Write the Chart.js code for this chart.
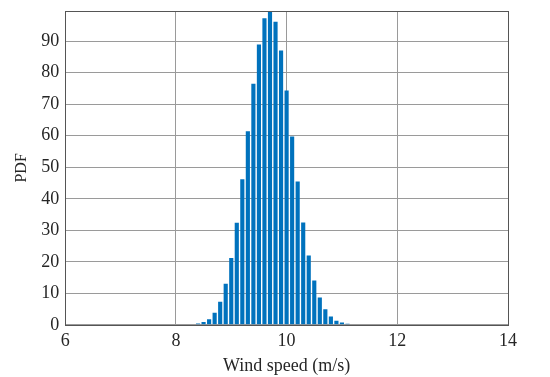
<!DOCTYPE html>
<html>
<head>
<meta charset="utf-8">
<script src="https://cdn.jsdelivr.net/npm/chart.js@4/dist/chart.umd.min.js"></script>
<style>
html,body{margin:0;padding:0;background:#fff;}
#wrap{width:550px;height:377px;}
</style>
</head>
<body>
<div id="wrap"><canvas id="c" width="550" height="377"></canvas></div>
<script>
const binCenters = [8.3, 8.4, 8.5, 8.6, 8.7, 8.8, 8.9, 9.0, 9.1, 9.2, 9.3, 9.4, 9.5, 9.6, 9.7, 9.8, 9.9, 10.0, 10.1, 10.2, 10.3, 10.4, 10.5, 10.6, 10.7, 10.8, 10.9, 11.0, 11.1];
const pdfValues = [0.2, 0.4, 0.9, 1.8, 3.8, 7.3, 13.0, 21.2, 32.4, 46.2, 61.4, 76.5, 89.0, 97.3, 99.6, 96.2, 87.1, 74.4, 59.8, 45.5, 32.5, 22.0, 14.1, 8.7, 4.9, 2.6, 1.3, 0.7, 0.3];
const xRange = [6, 14];
const xStep = 2;
const yRange = [0, 99.6];
const yStep = 10;
const xTitle = 'Wind speed (m/s)';
const yTitle = 'PDF';

const points = binCenters.map((x, i) => ({x: x, y: pdfValues[i]}));

const boxPlugin = {
  id: 'box',
  afterDraw(chart) {
    const a = chart.chartArea, ctx = chart.ctx;
    ctx.save();
    ctx.strokeStyle = '#555555';
    ctx.lineWidth = 1;
    ctx.strokeRect(Math.round(a.left) + 0.5, Math.round(a.top) + 0.5, Math.round(a.right - a.left), Math.round(a.bottom - a.top));
    ctx.restore();
  }
};

const fam = '"Liberation Serif", "Times New Roman", serif';

new Chart(document.getElementById('c'), {
  type: 'bar',
  data: {
    datasets: [{
      data: points,
      backgroundColor: '#0072BD',
      borderWidth: 0,
      barPercentage: 0.75,
      categoryPercentage: 1.0
    }]
  },
  options: {
    responsive: false,
    animation: false,
    devicePixelRatio: 1,
    layout: {padding: {left: 12, right: 42, top: 11, bottom: 0}},
    plugins: {legend: {display: false}, tooltip: {enabled: false}},
    scales: {
      x: {
        type: 'linear',
        min: xRange[0], max: xRange[1],
        offset: false,
        grid: {color: '#9a9a9a', drawTicks: false, lineWidth: 1, offset: false},
        border: {display: false},
        ticks: {stepSize: xStep, color: '#262626', font: {family: fam, size: 18}, padding: 6, maxRotation: 0},
        title: {display: true, text: xTitle, color: '#262626', font: {family: fam, size: 18}, padding: {top: -3, bottom: 0}}
      },
      y: {
        type: 'linear',
        min: yRange[0], max: yRange[1],
        afterFit(scale) { scale.paddingTop = 0; },
        grid: {color: '#9a9a9a', drawTicks: false, lineWidth: 1},
        border: {display: false},
        ticks: {stepSize: yStep, includeBounds: false, color: '#262626', font: {family: fam, size: 18}, padding: 6},
        title: {display: true, text: yTitle, color: '#262626', font: {family: fam, size: 16}, padding: {top: 0, bottom: 4}}
      }
    }
  },
  plugins: [boxPlugin]
});
</script>
</body>
</html>
